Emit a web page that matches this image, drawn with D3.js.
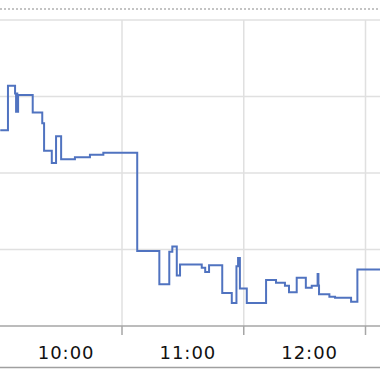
<!DOCTYPE html>
<html>
<head>
<meta charset="utf-8">
<script src="https://cdn.jsdelivr.net/npm/d3@7"></script>
<style>
  body { margin: 0; background: #fff; }
  svg { display: block; }
  .grid line { stroke: #e0e0e0; stroke-width: 1.5; }
  .axis-line { stroke: #a6a6a6; stroke-width: 1.5; }
  .tick-label { font-family: "DejaVu Sans", Verdana, sans-serif; font-size: 18px; fill: #111; letter-spacing: 1px; }
</style>
</head>
<body>
<svg width="380" height="372"></svg>
<script>
// minutes after 10:00 where the level changes, and the level from then on
const stepMinutes = [0, 3.8, 7.3, 7.8, 8.1, 8.4, 8.8, 16, 20.7, 21.6, 25.4, 27.5, 30, 36.8, 44.2, 50.8,
    67.5, 78.4, 83.3, 84.8, 87, 88.6, 99.3, 101, 102.9, 109.4, 114.1, 116.4, 117.2, 118.1, 121.5,
    131, 135.9, 140.3, 142.3, 146.1, 150.6, 153.5, 156.4, 156.8, 157.1, 162.2, 165, 172.9, 176, 188];
const stepValues = [25.6, 31.4, 30.4, 28.0, 30.4, 28.0, 30.2, 27.9, 26.5, 22.9, 21.3, 24.8, 21.8, 22.05, 22.4, 22.65,
    9.8, 5.45, 9.7, 10.4, 6.6, 8.05, 7.6, 7.05, 7.95, 4.3, 3.0, 7.8, 8.9, 4.9, 3.0,
    6.0, 5.66, 5.27, 4.4, 6.3, 5.0, 5.27, 6.8, 5.3, 4.14, 3.83, 3.7, 3.18, 7.4, 7.4];
const hourLabels = ["10:00", "11:00", "12:00"];
const gridHours = [11, 12, 13];
const yGrid = [10, 20, 30, 40];

const svg = d3.select("svg");
const base = new Date(2020, 0, 1, 10, 0);
const at = (h, m) => new Date(2020, 0, 1, h, m || 0);

const x = d3.scaleTime()
    .domain([at(11), at(13)])
    .range([122, 365.5]);
const y = d3.scaleLinear()
    .domain([0, 40])
    .range([326, 20]);

const data = stepMinutes.map((m, i) => ({ t: new Date(+base + m * 60000), v: stepValues[i] }));

// top dotted border
svg.append("line")
    .attr("x1", 0).attr("x2", 380).attr("y1", 9).attr("y2", 9)
    .attr("stroke", "#c4c4c4").attr("stroke-width", 2)
    .attr("stroke-dasharray", "2,2");

// gridlines
let grid = svg.append("g").attr("class", "grid");
yGrid.map(v => {
    grid.append("line")
        .attr("x1", 0).attr("x2", 380)
        .attr("y1", y(v)).attr("y2", y(v));
});
gridHours.map(h => {
    grid.append("line")
        .attr("x1", x(at(h))).attr("x2", x(at(h)))
        .attr("y1", y(40)).attr("y2", y(0));
});

// x axis line + ticks
svg.append("line").attr("class", "axis-line")
    .attr("x1", 0).attr("x2", 380).attr("y1", y(0)).attr("y2", y(0));
gridHours.map(h => {
    svg.append("line").attr("class", "axis-line")
        .attr("x1", x(at(h))).attr("x2", x(at(h)))
        .attr("y1", y(0)).attr("y2", y(0) + 9);
});
hourLabels.map((lab, i) => {
    const h = 10 + i;
    svg.append("text").attr("class", "tick-label")
        .attr("x", (x(at(h)) + x(at(h + 1))) / 2 + 5)
        .attr("y", 358.5)
        .attr("text-anchor", "middle")
        .text(lab);
});

// bottom border
svg.append("line")
    .attr("x1", 0).attr("x2", 380).attr("y1", 367.5).attr("y2", 367.5)
    .attr("stroke", "#a0a0a0").attr("stroke-width", 1.5);

// the series
const line = d3.line()
    .x(d => x(d.t))
    .y(d => y(d.v))
    .curve(d3.curveStepAfter);
svg.append("path")
    .datum(data)
    .attr("d", line)
    .attr("fill", "none")
    .attr("stroke", "#5073c0")
    .attr("stroke-width", 2);
</script>
</body>
</html>
